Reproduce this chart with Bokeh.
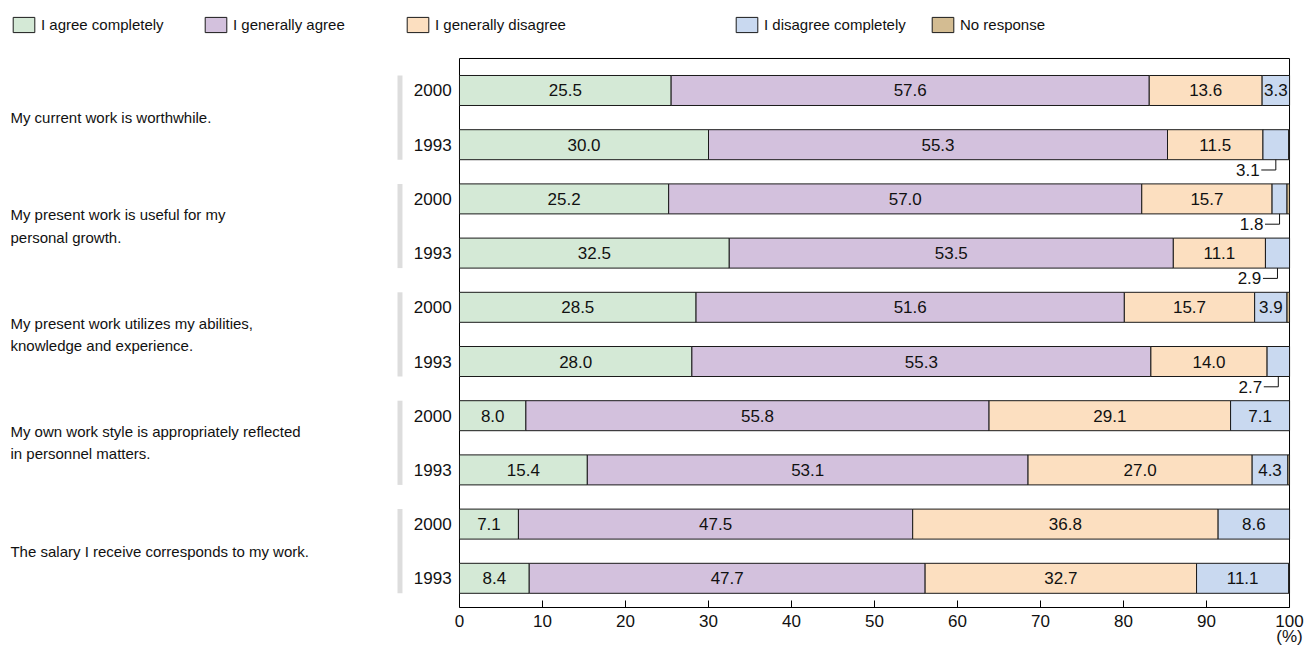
from bokeh.plotting import figure
from bokeh.models import (ColumnDataSource, Range1d, FixedTicker, Legend, LegendItem, LinearAxis)
from bokeh.core.properties import value
from bokeh.embed import file_html
from bokeh.resources import INLINE

# ---------------- data ----------------
statements = [
    "My current work is worthwhile.",
    "My present work is useful for my\npersonal growth.",
    "My present work utilizes my abilities,\nknowledge and experience.",
    "My own work style is appropriately reflected\nin personnel matters.",
    "The salary I receive corresponds to my work.",
]
years = ["2000", "1993"]
categories = ["I agree completely", "I generally agree", "I generally disagree",
              "I disagree completely", "No response"]

# rows top to bottom: statement 1 (2000, 1993), statement 2 (2000, 1993), ...
agree_completely = [25.5, 30.0, 25.2, 32.5, 28.5, 28.0, 8.0, 15.4, 7.1, 8.4]
generally_agree = [57.6, 55.3, 57.0, 53.5, 51.6, 55.3, 55.8, 53.1, 47.5, 47.7]
generally_disagree = [13.6, 11.5, 15.7, 11.1, 15.7, 14.0, 29.1, 27.0, 36.8, 32.7]
disagree_completely = [3.3, 3.1, 1.8, 2.9, 3.9, 2.7, 7.1, 4.3, 8.6, 11.1]
no_response = [0.0, 0.1, 0.3, 0.0, 0.3, 0.0, 0.0, 0.2, 0.0, 0.1]

x_ticks = [0, 10, 20, 30, 40, 50, 60, 70, 80, 90, 100]
x_unit_label = "(%)"

colors = ["#d4e9d6", "#d3c1dd", "#fcdfc0", "#c9d9f0", "#d3bc92"]
FONT = "Liberation Sans"

series = [agree_completely, generally_agree, generally_disagree,
          disagree_completely, no_response]
keys = ["c0", "c1", "c2", "c3", "c4"]
n = len(agree_completely)
row_y = [-i for i in range(n)]
BAR_H = 0.5535
Y0, Y1 = -9.5387, 1.6605

src = ColumnDataSource(dict(y=row_y, **{k: s for k, s in zip(keys, series)}))

p = figure(width=1314, height=650, output_backend="svg", toolbar_location=None,
           x_range=Range1d(-55.30, 103.01), y_range=Range1d(Y0, Y1),
           y_axis_location=None, min_border_left=0, min_border_right=0,
           min_border_top=0, min_border_bottom=43)
p.outline_line_color = None
p.grid.visible = False
p.background_fill_color = "white"
p.border_fill_color = "white"

# plot box
p.quad(left=[0], right=[100], top=[0.5904], bottom=[Y0],
       fill_color=None, line_color="black", line_width=1)

# group marker bars (grey) on the left of year labels
g_top = [row_y[2 * g] + BAR_H / 2 for g in range(len(statements))]
g_bot = [row_y[2 * g + 1] - BAR_H / 2 for g in range(len(statements))]
p.quad(left=-7.47, right=-6.87, top=g_top, bottom=g_bot,
       fill_color="#dddddd", line_color=None)

renderers = p.hbar_stack(keys, y="y", height=BAR_H, color=colors,
                         line_color="#1a1a1a", line_width=1, source=src)

# value labels
lab_x, lab_y, lab_t = [], [], []
co_x, co_y, co_t, lead_xs, lead_ys = [], [], [], [], []
for i in range(n):
    left = 0.0
    for j, s in enumerate(series):
        v = s[i]
        c = left + v / 2
        left += v
        if j == 4:
            continue
        if j == 3 and v < 3.2:
            yb = row_y[i] - BAR_H / 2
            ty = yb - 0.19
            co_x.append(c - 1.95)
            co_y.append(ty)
            co_t.append(f"{v:.1f}")
            lead_xs.append([c - 1.75, c, c])
            lead_ys.append([ty, ty, yb])
        else:
            lab_x.append(c)
            lab_y.append(row_y[i])
            lab_t.append(f"{v:.1f}")

NUM_SIZE = "17px"
TXT_SIZE = "15px"
p.text(x=lab_x, y=lab_y, text=lab_t, text_align="center", text_baseline="middle",
       text_font=value(FONT), text_font_size=NUM_SIZE, text_color="#111111")
p.text(x=co_x, y=co_y, text=co_t, text_align="right", text_baseline="middle",
       text_font=value(FONT), text_font_size=NUM_SIZE, text_color="#111111")
p.multi_line(xs=lead_xs, ys=lead_ys, line_color="#111111", line_width=1)

# year labels
p.text(x=[-0.95] * n, y=row_y, text=[years[i % 2] for i in range(n)],
       text_align="right", text_baseline="middle",
       text_font=value(FONT), text_font_size=NUM_SIZE, text_color="#111111")

# statement labels
st_y = [(row_y[2 * g] + row_y[2 * g + 1]) / 2 for g in range(len(statements))]
p.text(x=[-54.1] * len(statements), y=st_y, text=statements,
       text_align="left", text_baseline="middle", text_line_height=1.3,
       text_font=value(FONT), text_font_size=TXT_SIZE, text_color="#111111")

# axis
ax = p.xaxis[0]
ax.bounds = (0, 100)
ax.ticker = FixedTicker(ticks=x_ticks)
ax.major_tick_in = 7
ax.major_tick_out = 0
ax.minor_tick_line_color = None
ax.axis_line_color = "black"
ax.major_tick_line_color = "black"
ax.major_label_text_font = FONT
ax.major_label_text_font_size = NUM_SIZE
ax.major_label_text_color = "#111111"
ax.major_label_standoff = 7

# unit label under the "100" tick, as a second (line-less) axis
ax2 = LinearAxis(ticker=FixedTicker(ticks=[x_ticks[-1]]),
                 major_label_overrides={x_ticks[-1]: x_unit_label},
                 bounds=(0, 100), axis_line_color=None, major_tick_line_color=None,
                 minor_tick_line_color=None, major_tick_in=0, major_tick_out=0,
                 major_label_standoff=-3, major_label_text_font=FONT,
                 major_label_text_font_size=NUM_SIZE, major_label_text_color="#111111")
p.add_layout(ax2, "below")

# legend: one legend per item at its own position
leg_x = [10, 202, 404, 733, 929]
for r, lab, lx in zip(renderers, categories, leg_x):
    lg = Legend(items=[LegendItem(label=lab, renderers=[r])], location=(lx, 573),
                orientation="horizontal", padding=0, margin=0, spacing=0,
                glyph_width=27, glyph_height=19, label_standoff=4,
                label_text_font=FONT, label_text_font_size=TXT_SIZE,
                label_text_color="#111111", border_line_color=None,
                background_fill_alpha=0)
    p.add_layout(lg, "center")

open("out.html", "w").write(file_html(p, INLINE))
